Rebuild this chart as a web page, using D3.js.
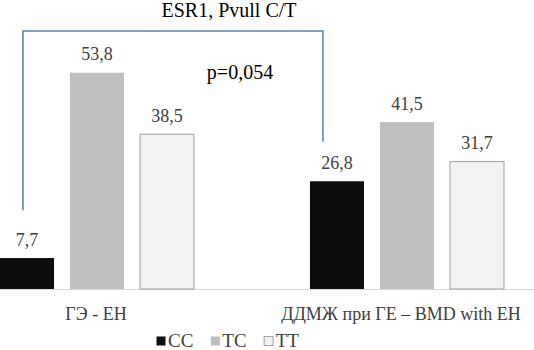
<!DOCTYPE html>
<html>
<head>
<meta charset="utf-8">
<script src="https://cdn.jsdelivr.net/npm/d3@7"></script>
</head>
<body style="margin:0">
<svg width="534" height="350" font-family="Liberation Serif">
<text x="229" y="17" text-anchor="middle" font-family="Liberation Serif" font-size="20" fill="#000">ESR1, Pvull C/T</text>
</svg>
<script>
// data
var categories = ['ГЭ - EH', 'ДДМЖ при ГЕ – BMD with EH'];
var genotypes = ['CC', 'TC', 'TT'];
var ccValues = [7.7, 26.8];
var tcValues = [53.8, 41.5];
var ttValues = [38.5, 31.7];
var pLabel = 'p=0,054';

var seriesValues = {CC: ccValues, TC: tcValues, TT: ttValues};
var fills = {CC: '#0d0d0d', TC: '#bfbfbf', TT: '#f2f2f2'};
var strokes = {CC: 'none', TC: 'none', TT: '#a0a0a0'};

var svg = d3.select('svg');
var width = +svg.attr('width');

var rows = [];
categories.forEach(function(c, i) {
    genotypes.forEach(function(g) {
        rows.push({cat: c, key: g, value: seriesValues[g][i]});
    });
});

var x0 = d3.scaleBand()
    .domain(categories)
    .range([-58, 562])
    .paddingInner(0.374)
    .paddingOuter(0.187);
var x1 = d3.scaleBand()
    .domain(genotypes)
    .range([0, x0.bandwidth()])
    .paddingInner(0.2286);
var y = d3.scaleLinear()
    .domain([0, 60])
    .range([289, 47.8]);

// baseline
svg.append('line')
    .attr('x1', 0).attr('x2', width)
    .attr('y1', y(0) + 0.5).attr('y2', y(0) + 0.5)
    .attr('stroke', '#d9d9d9')
    .attr('stroke-width', 1.2);

var bars = svg.append('g').attr('class', 'bars');
bars.selectAll('rect')
    .data(rows)
    .enter()
    .append('rect')
    .attr('x', function(d) { return x0(d.cat) + x1(d.key); })
    .attr('y', function(d) { return y(d.value); })
    .attr('width', x1.bandwidth())
    .attr('height', function(d) { return y(0) - y(d.value); })
    .attr('fill', function(d) { return fills[d.key]; })
    .attr('stroke', function(d) { return strokes[d.key]; })
    .attr('stroke-width', 1);

bars.selectAll('.value')
    .data(rows)
    .enter()
    .append('text')
    .attr('class', 'value')
    .attr('x', function(d) { return x0(d.cat) + x1(d.key) + x1.bandwidth() / 2; })
    .attr('y', function(d) { return y(d.value) - 12.5; })
    .attr('text-anchor', 'middle')
    .attr('font-family', 'Liberation Serif')
    .attr('font-size', 18)
    .attr('fill', '#404040')
    .text(function(d) { return String(d.value).replace('.', ','); });

// category labels
svg.selectAll('.cat')
    .data(categories)
    .enter()
    .append('text')
    .attr('class', 'cat')
    .attr('x', function(d, i) { return x0(d) + x0.bandwidth() / 2 - (i ? 6 : 1); })
    .attr('y', 320)
    .attr('text-anchor', 'middle')
    .attr('font-family', 'Liberation Serif')
    .attr('font-size', 18)
    .attr('fill', '#404040')
    .text(function(d) { return d; });

// bracket for the p value
var leftX = x0(categories[0]) + x1('CC') + x1.bandwidth() / 2 - 4;
var rightX = x0(categories[1]) + x1('CC') + 13;
var bracket = d3.path();
bracket.moveTo(leftX, y(19.6));
bracket.lineTo(leftX, y(64.2));
bracket.lineTo(rightX, y(64.2));
bracket.lineTo(rightX, y(36.6));
svg.append('path')
    .attr('d', bracket.toString())
    .attr('fill', 'none')
    .attr('stroke', '#5a7dbf')
    .attr('stroke-width', 1.5);

svg.append('text')
    .attr('x', 240)
    .attr('y', 79)
    .attr('text-anchor', 'middle')
    .attr('font-family', 'Liberation Serif')
    .attr('font-size', 20)
    .attr('fill', '#000')
    .text(pLabel);

// legend
var legend = svg.append('g').attr('transform', 'translate(156,347)');
var lx = 0;
genotypes.forEach(function(g) {
    legend.append('rect')
        .attr('x', lx + 0.5).attr('y', -10.5)
        .attr('width', 9).attr('height', 9)
        .attr('fill', fills[g])
        .attr('stroke', g === 'TT' ? '#a0a0a0' : 'none');
    var t = legend.append('text')
        .attr('x', lx + 12)
        .attr('y', 0)
        .attr('font-family', 'Liberation Serif')
        .attr('font-size', 19)
        .attr('fill', '#404040')
        .text(g);
    lx += 12 + t.node().getComputedTextLength() + 17;
});
</script>
</body>
</html>
